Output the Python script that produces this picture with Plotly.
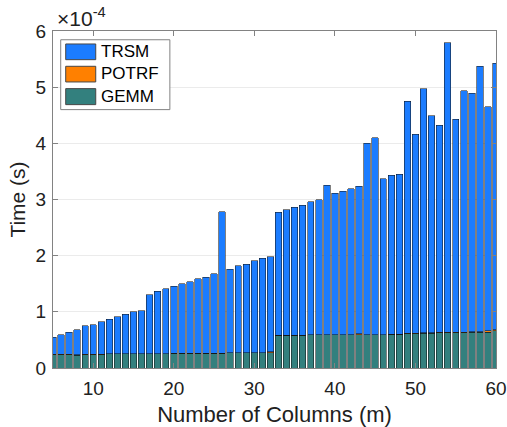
import plotly.graph_objects as go

# Number of columns (m)
columns = list(range(5, 61))

# Total time per bar, in units of 1e-4 s
total_e4 = [0.55, 0.59, 0.64, 0.68, 0.75, 0.77, 0.82, 0.87, 0.91, 0.96,
            1.00, 1.02, 1.30, 1.37, 1.41, 1.46, 1.50, 1.54, 1.59, 1.62,
            1.68, 2.78, 1.76, 1.82, 1.85, 1.91, 1.95, 1.98, 2.77, 2.82,
            2.86, 2.90, 2.96, 3.00, 3.25, 3.11, 3.15, 3.19, 3.24, 4.00,
            4.10, 3.37, 3.43, 3.45, 4.75, 4.16, 4.97, 4.49, 4.32, 5.79,
            4.43, 4.94, 4.89, 5.37, 4.65, 5.43]

# GEMM time, 1e-4 s
gemm_e4 = [0.24, 0.24, 0.24, 0.23, 0.24, 0.24, 0.24, 0.25, 0.25, 0.25,
           0.25, 0.25, 0.25, 0.25, 0.25, 0.26, 0.26, 0.26, 0.26, 0.26,
           0.26, 0.26, 0.27, 0.27, 0.27, 0.27, 0.27, 0.27, 0.58, 0.58,
           0.58, 0.58, 0.59, 0.59, 0.59, 0.59, 0.59, 0.59, 0.59, 0.59,
           0.59, 0.59, 0.60, 0.60, 0.61, 0.61, 0.62, 0.62, 0.63, 0.63,
           0.63, 0.63, 0.64, 0.64, 0.64, 0.66]

# POTRF time, 1e-4 s
potrf_e4 = [0.005, 0.005, 0.005, 0.005, 0.005, 0.005, 0.005, 0.005, 0.005, 0.005,
            0.005, 0.005, 0.005, 0.005, 0.005, 0.005, 0.005, 0.005, 0.005, 0.005,
            0.005, 0.005, 0.005, 0.005, 0.005, 0.005, 0.005, 0.02, 0.005, 0.005,
            0.005, 0.005, 0.005, 0.005, 0.005, 0.005, 0.005, 0.005, 0.02, 0.005,
            0.005, 0.005, 0.005, 0.005, 0.012, 0.005, 0.005, 0.005, 0.005, 0.005,
            0.005, 0.005, 0.005, 0.005, 0.02, 0.025]

SCALE = 1e-4
y_ticks = [0, 1, 2, 3, 4, 5, 6]
x_ticks = [10, 20, 30, 40, 50, 60]

series_names = ["TRSM", "POTRF", "GEMM"]
series_colors = {"TRSM": "rgb(27,124,255)", "POTRF": "rgb(255,128,0)",
                 "GEMM": "rgb(51,128,126)"}

trsm_e4 = [t - g - p for t, g, p in zip(total_e4, gemm_e4, potrf_e4)]
series_vals = {"GEMM": gemm_e4, "POTRF": potrf_e4, "TRSM": trsm_e4}

FONT = "Liberation Sans, Arial, Helvetica, sans-serif"
TXT = "rgb(33,33,33)"
AX = "rgb(130,130,130)"
edge = dict(color="rgba(20,20,20,0.9)", width=0.6)

fig = go.Figure()
for name in ["GEMM", "POTRF", "TRSM"]:
    fig.add_trace(go.Bar(x=columns, y=[v * SCALE for v in series_vals[name]],
                         name=name, showlegend=False,
                         marker=dict(color=series_colors[name], line=edge)))

axis_common = dict(showline=True, linecolor=AX, linewidth=1,
                   mirror="allticks", ticks="inside", ticklen=5,
                   tickcolor=AX, zeroline=False, automargin=False,
                   tickfont=dict(family=FONT, size=19, color=TXT))

# Manual legend (box, colour swatches, labels) in paper coordinates
shapes = [dict(type="rect", xref="paper", yref="paper",
               x0=0.0174, x1=0.2638, y0=0.7667, y1=0.974,
               fillcolor="white", line=dict(color=AX, width=1), layer="above")]
annotations = []
sw_rows = [(0.9615, 0.9149), (0.8953, 0.8488), (0.829, 0.7815)]
txt_rows = [0.9378, 0.8725, 0.8043]
for name, (ya, yb), yt in zip(series_names, sw_rows, txt_rows):
    shapes.append(dict(type="rect", xref="paper", yref="paper",
                       x0=0.0287, x1=0.0965, y0=yb, y1=ya,
                       fillcolor=series_colors[name],
                       line=dict(color="rgb(70,70,70)", width=1), layer="above"))
    annotations.append(dict(text=name, xref="paper", yref="paper",
                            x=0.1045, y=yt, xanchor="left", yanchor="middle",
                            showarrow=False,
                            font=dict(family=FONT, size=17, color="black")))

annotations.append(dict(text="×10<sup>-4</sup>", xref="paper", yref="paper",
                        x=0.004, y=1.0, xanchor="left", yanchor="bottom",
                        showarrow=False, yshift=-1,
                        font=dict(family=FONT, size=21, color=TXT)))

fig.update_layout(
    width=507, height=427,
    margin=dict(l=53, r=11, t=31, b=59),
    paper_bgcolor="white", plot_bgcolor="white",
    barmode="stack", bargap=0.2,
    font=dict(family=FONT, color=TXT),
    showlegend=False,
    xaxis=dict(range=[5, 60], tickvals=x_ticks, showgrid=False,
               ticklabelstandoff=3,
               title=dict(text="Number of Columns (m)", standoff=14,
                          font=dict(family=FONT, size=22, color=TXT)),
               **axis_common),
    yaxis=dict(range=[0, 6 * SCALE], tickvals=[v * SCALE for v in y_ticks],
               ticktext=[str(v) for v in y_ticks], ticklabelstandoff=2,
               showgrid=True, gridcolor="rgb(235,235,235)",
               title=dict(text="Time (s)", standoff=4,
                          font=dict(family=FONT, size=21, color=TXT)),
               **axis_common),
    shapes=shapes,
    annotations=annotations,
)

fig.write_html("out.html",
               config={"displayModeBar": False, "staticPlot": True},
               post_script="document.body.style.margin='0';"
                           "document.body.style.overflow='hidden';")
